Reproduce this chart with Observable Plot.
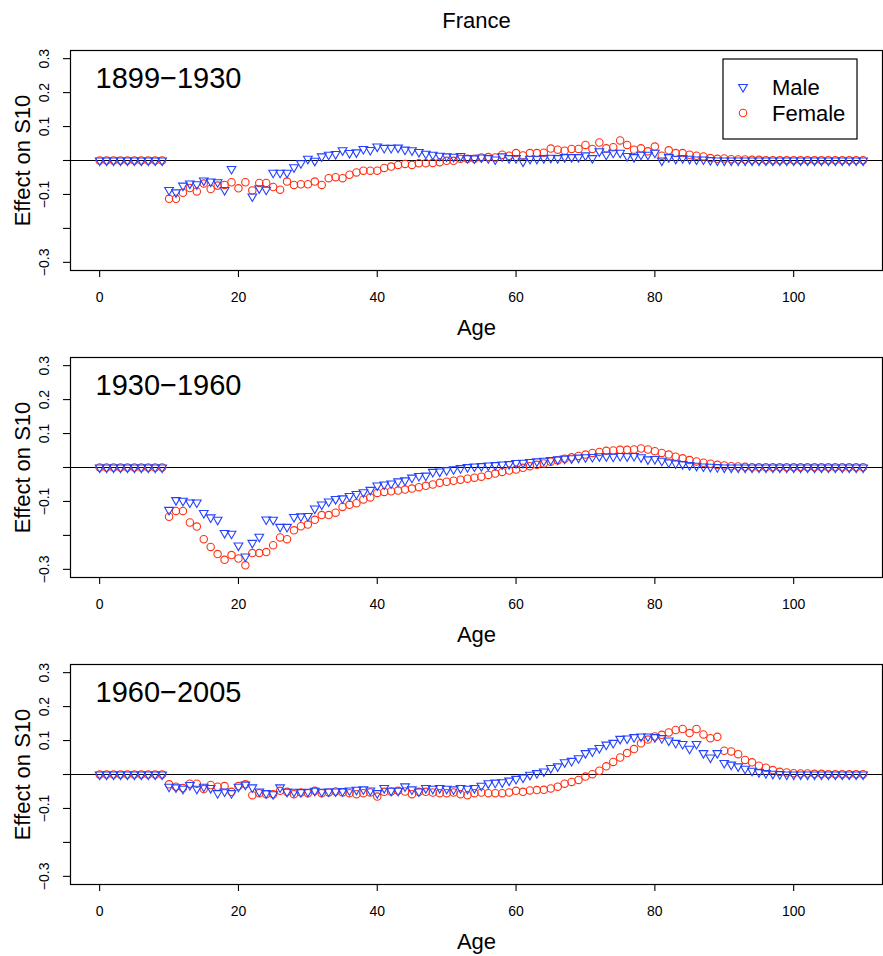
<!DOCTYPE html>
<html><head><meta charset="utf-8">
<script src="https://cdn.jsdelivr.net/npm/d3@7"></script>
<script src="https://cdn.jsdelivr.net/npm/@observablehq/plot@0.6"></script>
<style>
body{margin:0;background:#fff;font-family:"Liberation Sans",Arial,Helvetica,sans-serif;}
#title{height:35px;width:883px;box-sizing:border-box;padding-left:70px;text-align:center;font-size:22px;line-height:42px;}
#chart svg{display:block;}
</style></head><body>
<div id="title">France</div>
<div id="chart"></div>
<script>
const ages = d3.range(0, 111);
const periods = ["1899\u22121930", "1930\u22121960", "1960\u22122005"];
const seriesNames = ["Male", "Female"];
const xTicks = [0, 20, 40, 60, 80, 100];
const yTicks = [-0.3, -0.2, -0.1, 0, 0.1, 0.2, 0.3];
const yTickLabels = [-0.3, -0.1, 0.1, 0.2, 0.3];

const male1899 = [
 0,0,0,0,0,0,0,0,0,0,
 -0.087,-0.094,-0.074,-0.068,-0.070,-0.059,-0.062,-0.064,-0.087,-0.025,
 null,null,-0.106,-0.082,-0.086,-0.036,-0.036,-0.036,-0.020,-0.008,
 0.005,-0.001,0.012,0.017,0.019,0.030,0.022,0.024,0.034,0.031,
 0.041,0.037,0.037,0.038,0.032,0.030,0.025,0.020,0.017,0.014,
 0.012,0.011,0.013,0.007,0.006,0.009,0.007,0.003,0.012,0.007,
 0.007,-0.003,0.005,0.005,0.007,0.008,0.007,0.010,0.010,0.010,
 0.015,0.007,0.027,0.017,0.023,0.023,0.013,0.010,0.017,0.017,
 0.023,0.000,0.010,0.005,0.007,0.005,0.003,0.003,0.001,0.000,
 0,0,0,0,0,0,0,0,0,0,
 0,0,0,0,0,0,0,0,0,0,0];
const female1899 = [
 0,0,0,0,0,0,0,0,0,0,
 -0.113,-0.113,-0.095,-0.081,-0.091,-0.068,-0.084,-0.074,-0.072,-0.064,
 -0.082,-0.064,-0.088,-0.066,-0.066,-0.078,-0.086,-0.062,-0.072,-0.070,
 -0.070,-0.062,-0.072,-0.052,-0.049,-0.052,-0.042,-0.035,-0.030,-0.030,
 -0.030,-0.022,-0.018,-0.013,-0.010,-0.013,-0.008,-0.008,-0.007,-0.005,
 -0.001,-0.001,0.005,0.005,0.005,0.009,0.010,0.009,0.017,0.014,
 0.022,0.015,0.022,0.022,0.023,0.035,0.032,0.029,0.034,0.034,
 0.046,0.034,0.053,0.036,0.039,0.059,0.046,0.032,0.036,0.027,
 0.041,0.014,0.030,0.022,0.022,0.017,0.014,0.012,0.007,0.005,
 0.006,0.004,0.003,0.003,0.002,0.002,0.001,0.001,0.001,0.001,
 0.001,0.001,0.001,0.001,0.001,0.001,0.001,0.001,0.001,0.001,0.001];
const male1930 = [
 0,0,0,0,0,0,0,0,0,0,
 -0.125,-0.096,-0.098,-0.103,-0.103,-0.134,-0.147,-0.154,-0.193,-0.195,
 -0.230,-0.262,-0.222,-0.204,-0.153,-0.154,-0.175,-0.175,-0.146,-0.144,
 -0.143,-0.121,-0.109,-0.100,-0.093,-0.091,-0.084,-0.078,-0.073,-0.066,
 -0.053,-0.050,-0.047,-0.041,-0.038,-0.030,-0.025,-0.024,-0.013,-0.012,
 -0.008,-0.005,-0.002,0.001,0.003,0.004,0.006,0.007,0.009,0.010,
 0.013,0.014,0.016,0.018,0.020,0.022,0.024,0.026,0.027,0.029,
 0.030,0.031,0.033,0.033,0.032,0.034,0.033,0.034,0.030,0.024,
 0.025,0.020,0.015,0.012,0.010,0.007,0.005,0.003,0.002,0.001,
 0,0,0,0,0,0,0,0,0,0,
 0,0,0,0,0,0,0,0,0,0,0];
const female1930 = [
 0,0,0,0,0,0,0,0,0,0,
 -0.145,-0.128,-0.128,-0.162,-0.174,-0.211,-0.234,-0.255,-0.272,-0.258,
 -0.268,-0.288,-0.252,-0.252,-0.249,-0.229,-0.206,-0.211,-0.185,-0.173,
 -0.168,-0.154,-0.140,-0.140,-0.133,-0.116,-0.110,-0.105,-0.094,-0.088,
 -0.075,-0.072,-0.070,-0.068,-0.065,-0.062,-0.058,-0.054,-0.050,-0.045,
 -0.042,-0.039,-0.036,-0.033,-0.030,-0.027,-0.022,-0.018,-0.013,-0.009,
 -0.006,-0.001,0.004,0.008,0.012,0.017,0.021,0.026,0.030,0.034,
 0.038,0.043,0.046,0.049,0.050,0.052,0.052,0.053,0.056,0.053,
 0.048,0.043,0.038,0.032,0.027,0.022,0.018,0.014,0.011,0.008,
 0.006,0.004,0.003,0.002,0.001,0.001,0.001,0.001,0.001,0.001,
 0.001,0.001,0.001,0.001,0.001,0.001,0.001,0.001,0.001,0.001,0.001];
const male1960 = [
 0,0,0,0,0,0,0,0,0,0,
 -0.036,-0.038,-0.042,-0.031,-0.042,-0.036,-0.040,-0.055,-0.050,-0.055,
 -0.036,-0.030,-0.038,-0.050,-0.055,-0.058,-0.038,-0.051,-0.051,-0.052,
 -0.051,-0.048,-0.051,-0.050,-0.050,-0.049,-0.047,-0.045,-0.044,-0.047,
 -0.055,-0.040,-0.048,-0.048,-0.035,-0.044,-0.050,-0.040,-0.042,-0.040,
 -0.042,-0.044,-0.040,-0.042,-0.040,-0.033,-0.026,-0.024,-0.023,-0.018,
 -0.013,-0.009,-0.001,0.004,0.009,0.019,0.024,0.036,0.040,0.048,
 0.063,0.068,0.078,0.088,0.093,0.105,0.106,0.110,0.112,0.112,
 0.110,0.107,0.100,0.093,0.090,0.076,0.090,0.063,0.050,0.063,
 0.034,0.029,0.024,0.017,0.011,0.007,0.004,0.002,0.001,0,
 0,0,0,0,0,0,0,0,0,0,0];
const female1960 = [
 0,0,0,0,0,0,0,0,0,0,
 -0.029,-0.036,-0.040,-0.027,-0.027,-0.043,-0.031,-0.036,-0.034,-0.051,
 -0.034,-0.029,-0.061,-0.055,-0.058,-0.058,-0.048,-0.051,-0.058,-0.053,
 -0.055,-0.048,-0.055,-0.053,-0.050,-0.053,-0.055,-0.058,-0.055,-0.053,
 -0.065,-0.051,-0.050,-0.048,-0.050,-0.058,-0.051,-0.051,-0.053,-0.055,
 -0.055,-0.053,-0.058,-0.061,-0.055,-0.053,-0.055,-0.055,-0.055,-0.053,
 -0.048,-0.051,-0.047,-0.046,-0.045,-0.041,-0.036,-0.027,-0.022,-0.016,
 -0.006,0.001,0.011,0.024,0.037,0.050,0.063,0.075,0.092,0.103,
 0.112,0.117,0.124,0.131,0.134,0.122,0.134,0.118,0.107,0.111,
 0.070,0.068,0.060,0.043,0.036,0.026,0.020,0.013,0.008,0.006,
 0.004,0.003,0.003,0.002,0.002,0.001,0.001,0.001,0.001,0.001,0.001];

const maleSeries = [male1899, male1930, male1960];
const femaleSeries = [female1899, female1930, female1960];

const BLUE = "#2342ff";
const RED = "#ff3012";
const FONT = "'Liberation Sans', Arial, Helvetica, sans-serif";

const downTriangle = {
  draw(context, size) {
    const r = Math.sqrt(size / Math.PI);
    const k = r * 1.36;
    const w = k * Math.sqrt(3) / 2;
    context.moveTo(0, k);
    context.lineTo(-w, -k / 2);
    context.lineTo(w, -k / 2);
    context.closePath();
  }
};

const fmt = d => (d < 0 ? "\u2212" : "") + Math.abs(d).toFixed(1);

function panel(i) {
  const rows = ages.map((a, j) => ({age: a, male: maleSeries[i][j], female: femaleSeries[i][j]}));
  const svg = Plot.plot({
    width: 883, height: 307,
    marginLeft: 70, marginRight: 1, marginTop: 15, marginBottom: 72,
    style: {fontFamily: FONT, fontSize: "14px", color: "black", background: "white", overflow: "visible"},
    x: {domain: [-4.2, 112.8]},
    y: {domain: [-0.324, 0.324]},
    marks: [
      Plot.ruleY([0], {stroke: "black", strokeWidth: 1.2}),
      Plot.axisX({ticks: xTicks, tickSize: 7, tickPadding: 15, label: null, fontSize: 14, strokeWidth: 1.1}),
      Plot.axisY({ticks: yTicks, tickSize: 7, tickFormat: () => "", label: null, strokeWidth: 1.1}),
      Plot.text(yTickLabels, {y: d => d, text: fmt, frameAnchor: "left", dx: -26, rotate: -90, textAnchor: "middle", lineAnchor: "middle", fontSize: 14}),
      Plot.text([periods[i]], {text: d => d, frameAnchor: "top-left", dx: 25, dy: 28, lineAnchor: "middle", textAnchor: "start", fontSize: 29}),
      Plot.text(["Effect on S10"], {text: d => d, frameAnchor: "left", dx: -48, rotate: -90, textAnchor: "middle", lineAnchor: "middle", fontSize: 22}),
      Plot.text(["Age"], {text: d => d, frameAnchor: "bottom", dy: 57, lineAnchor: "middle", textAnchor: "middle", fontSize: 22}),
      Plot.dot(rows, {x: "age", y: "female", r: 3.7, stroke: RED, strokeWidth: 1.1, fill: "none"}),
      Plot.dot(rows, {x: "age", y: "male", r: 3.7, symbol: downTriangle, stroke: BLUE, strokeWidth: 1.1, fill: "none"}),
      Plot.frame({stroke: "black", strokeWidth: 1.2})
    ]
  });
  if (i === 0) {
    const g = d3.select(svg).append("g").attr("font-family", FONT).attr("text-anchor", "start");
    g.append("rect").attr("x", 723).attr("y", 24).attr("width", 134).attr("height", 80)
      .attr("fill", "white").attr("stroke", "black").attr("stroke-width", 1.2);
    const k = 3.7 * 1.36, w = k * Math.sqrt(3) / 2;
    g.append("path").attr("transform", "translate(743,52)")
      .attr("d", `M0,${k}L${-w},${-k/2}L${w},${-k/2}Z`)
      .attr("fill", "none").attr("stroke", BLUE).attr("stroke-width", 1.1);
    g.append("circle").attr("cx", 743).attr("cy", 78).attr("r", 3.7)
      .attr("fill", "none").attr("stroke", RED).attr("stroke-width", 1.1);
    seriesNames.forEach((s, j) => {
      g.append("text").attr("x", 772).attr("y", 52 + j * 26).attr("dy", "0.35em")
        .attr("text-anchor", "start").attr("font-size", 22).attr("fill", "black").text(s);
    });
  }
  return svg;
}

const chart = document.getElementById("chart");
for (let i = 0; i < 3; i++) chart.appendChild(panel(i));
</script></body></html>
